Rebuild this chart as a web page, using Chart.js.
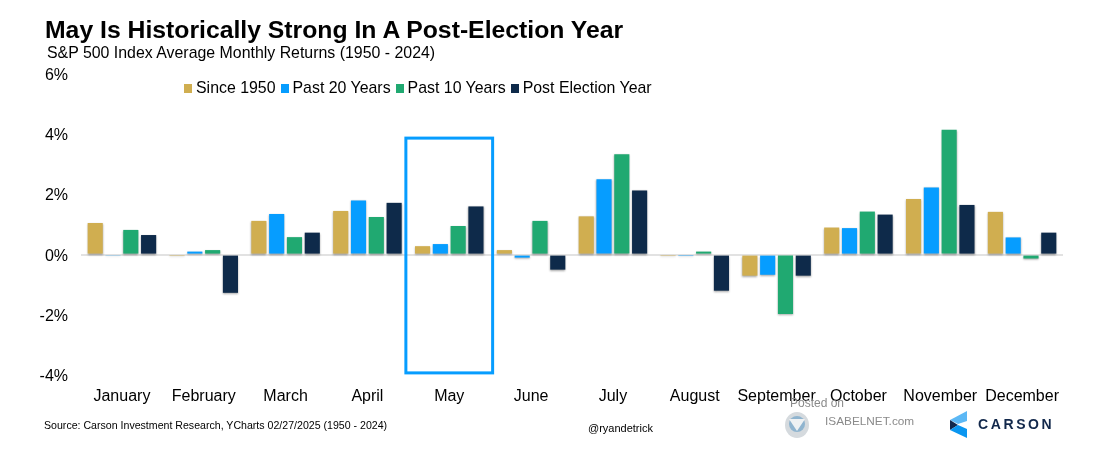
<!DOCTYPE html>
<html>
<head>
<meta charset="utf-8">
<script src="https://cdn.jsdelivr.net/npm/chart.js@4"></script>
<style>
html, body { margin: 0; padding: 0; background: #fff; }
#wrap { position: relative; width: 1101px; height: 449px; overflow: hidden; font-family: "Liberation Sans", Arial, sans-serif; color: #000; }
#wrap canvas#chart { position: absolute; left: 0; top: 0; }
.txt { position: absolute; white-space: nowrap; }
#title { left: 45px; top: 16px; font-size: 24.75px; font-weight: bold; }
#subtitle { left: 47px; top: 44px; font-size: 15.9px; }
#legend { position: absolute; left: 184px; top: 79px; display: flex; font-size: 15.9px; line-height: 18px; }
#legend span.item { display: flex; align-items: center; margin-right: 5px; }
#legend i { display: block; width: 8px; height: 9px; margin-right: 4px; }
#source { left: 44px; top: 419px; font-size: 10.6px; }
#handle { left: 588px; top: 422px; font-size: 11px; }
#posted { left: 790px; top: 396px; font-size: 12px; color: #8a8a8a; }
#isabel { left: 825px; top: 414px; font-size: 11.8px; color: #8a8a8a; }
#carson { left: 978px; top: 416px; font-size: 14px; font-weight: bold; letter-spacing: 2.6px; color: #12284b; }
svg { position: absolute; }
</style>
</head>
<body>
<div id="wrap">
  <canvas id="chart" width="1101" height="449"></canvas>
  <div class="txt" id="title">May Is Historically Strong In A Post-Election Year</div>
  <div class="txt" id="subtitle">S&amp;P 500 Index Average Monthly Returns (1950 - 2024)</div>
  <div id="legend"></div>
  <div class="txt" id="source">Source: Carson Investment Research, YCharts 02/27/2025 (1950 - 2024)</div>
  <div class="txt" id="handle">@ryandetrick</div>
  <div class="txt" id="posted">Posted on</div>
  <div class="txt" id="isabel">ISABELNET.com</div>
  <svg style="left:784px;top:411px" width="26" height="28" viewBox="0 0 26 28">
    <ellipse cx="13" cy="14" rx="12" ry="13" fill="#d5dade"/>
    <ellipse cx="13" cy="13" rx="8" ry="8" fill="#8fb4cf"/>
    <path d="M5 8 L21 8 L13 20 Z" fill="#eef1f3"/>
  </svg>
  <svg style="left:950px;top:411px" width="18" height="27" viewBox="0 0 18 27">
    <path d="M17 0 L17 10 L8 13 L0 9 Z" fill="#5cb8f5"/>
    <path d="M0 9 L8 14 L0 19 Z" fill="#12284b"/>
    <path d="M0 19 L8 14 L17 18 L17 27 Z" fill="#0a96f0"/>
  </svg>
  <div class="txt" id="carson">CARSON</div>
</div>
<script>
const months = ['January', 'February', 'March', 'April', 'May', 'June', 'July', 'August', 'September', 'October', 'November', 'December'];
const since1950 = [1.05, -0.02, 1.12, 1.45, 0.28, 0.15, 1.27, -0.02, -0.70, 0.90, 1.85, 1.42];
const past20 = [-0.04, 0.10, 1.35, 1.80, 0.35, -0.10, 2.50, -0.02, -0.67, 0.88, 2.23, 0.57];
const past10 = [0.82, 0.15, 0.58, 1.25, 0.95, 1.12, 3.33, 0.10, -1.97, 1.43, 4.15, -0.13];
const postElection = [0.65, -1.27, 0.73, 1.72, 1.60, -0.50, 2.13, -1.20, -0.70, 1.33, 1.65, 0.73];
const highlightMonth = 'May';
const highlightRange = [-3.93, 3.87];

const datasets = [
    { label: 'Since 1950', data: since1950, backgroundColor: '#d0ae50' },
    { label: 'Past 20 Years', data: past20, backgroundColor: '#069dff' },
    { label: 'Past 10 Years', data: past10, backgroundColor: '#20a971' },
    { label: 'Post Election Year', data: postElection, backgroundColor: '#0e2a4a' }
];

// legend sits in the plot, left of centre, so it is plain html
const legendEl = document.getElementById('legend');
datasets.forEach(ds => {
    const item = document.createElement('span');
    item.className = 'item';
    item.innerHTML = `<i style="background:${ds.backgroundColor}"></i>${ds.label}`;
    legendEl.appendChild(item);
});

const barShadow = {
    id: 'barShadow',
    beforeDatasetsDraw(chart) {
        const ctx = chart.ctx;
        ctx.save();
        ctx.shadowColor = 'rgba(0,0,0,0.35)';
        ctx.shadowBlur = 2;
        ctx.shadowOffsetY = 1;
    },
    afterDatasetsDraw(chart) {
        chart.ctx.restore();
    }
};

const highlightBox = {
    id: 'highlightBox',
    afterDatasetsDraw(chart) {
        const { ctx, scales } = chart;
        const cx = scales.x.getPixelForValue(months.indexOf(highlightMonth));
        const half = scales.x.width / months.length * 0.53;
        const top = scales.y.getPixelForValue(highlightRange[1]);
        const bottom = scales.y.getPixelForValue(highlightRange[0]);
        ctx.save();
        ctx.strokeStyle = '#069dff';
        ctx.lineWidth = 3;
        ctx.strokeRect(cx - half, top, half * 2, bottom - top);
        ctx.restore();
    }
};

new Chart(document.getElementById('chart'), {
    type: 'bar',
    data: { labels: months, datasets },
    plugins: [barShadow, highlightBox],
    options: {
        responsive: false,
        animation: false,
        layout: { padding: { top: 74, right: 38, bottom: 0, left: 0 } },
        datasets: { bar: { categoryPercentage: 0.87, barPercentage: 0.85 } },
        plugins: {
            legend: { display: false },
            title: { display: false },
            tooltip: { enabled: false }
        },
        scales: {
            x: {
                afterFit: scale => { scale.height = 74; },
                border: { display: false },
                grid: { display: false },
                ticks: { color: '#000', font: { family: '"Liberation Sans"', size: 16 }, padding: 4, maxRotation: 0, autoSkip: false }
            },
            y: {
                min: -4,
                max: 6,
                afterFit: scale => { scale.width = 81; },
                border: { display: false },
                grid: {
                    drawTicks: false,
                    lineWidth: ctx => (ctx.tick.value === 0 ? 2 : 0),
                    color: '#e2e2e2'
                },
                ticks: {
                    stepSize: 2,
                    color: '#000',
                    font: { family: '"Liberation Sans"', size: 16 },
                    padding: 13,
                    labelOffset: 1.5,
                    callback: v => `${v}%`
                }
            }
        }
    }
});
</script>
</body>
</html>
